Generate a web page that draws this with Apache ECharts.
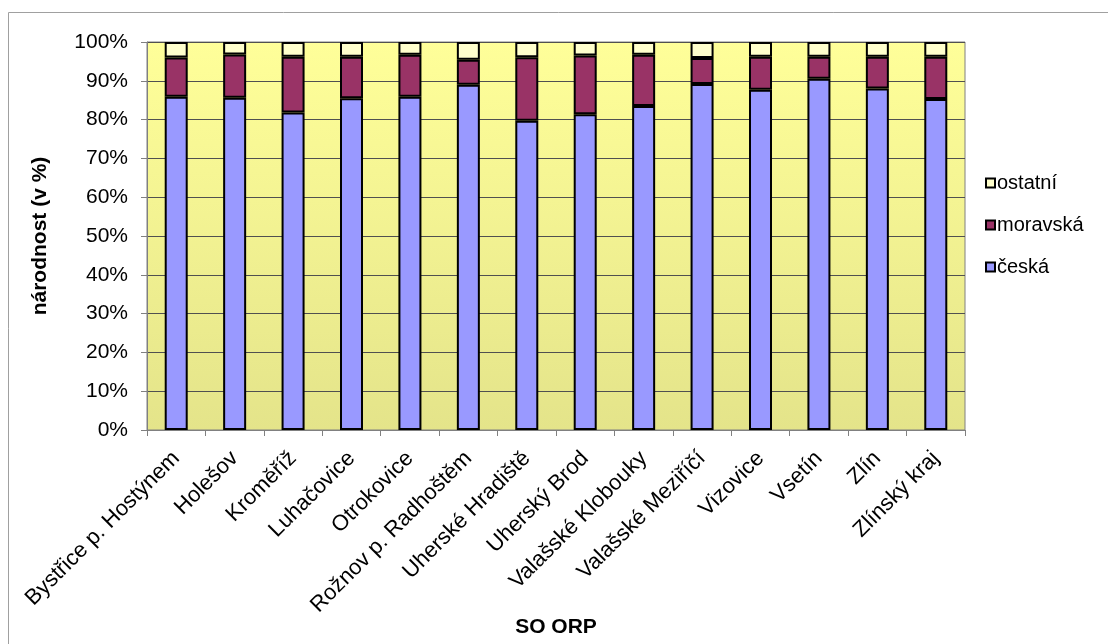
<!DOCTYPE html>
<html>
<head>
<meta charset="utf-8">
<script src="https://cdn.jsdelivr.net/npm/echarts@6/dist/echarts.min.js"></script>
<style>html,body{margin:0;padding:0;background:#fff}#c{width:1108px;height:644px}</style>
</head>
<body>
<div id="c"></div>
<script>
const categories = ["Bystřice p. Hostýnem","Holešov","Kroměříž","Luhačovice","Otrokovice","Rožnov p. Radhoštěm","Uherské Hradiště","Uherský Brod","Valašské Klobouky","Valašské Meziříčí","Vizovice","Vsetín","Zlín","Zlínský kraj"];
const ceska    = [85.9, 85.6, 81.8, 85.5, 85.9, 89.0, 79.7, 81.4, 83.5, 89.2, 87.7, 90.5, 88.0, 85.3];
const moravska = [10.1, 11.2, 14.4, 10.7, 10.8, 6.4, 16.4, 15.1, 13.2, 6.7, 8.5, 5.7, 8.2, 10.9];
const ostatni  = [4.0, 3.2, 3.8, 3.8, 3.3, 4.6, 3.9, 3.5, 3.3, 4.1, 3.8, 3.8, 3.8, 3.8];
const yTicks = [0,10,20,30,40,50,60,70,80,90,100];

const FONT = "Liberation Sans, Arial, sans-serif";
const chart = echarts.init(document.getElementById('c'), null, {renderer:'canvas'});
const barStyle = c => ({color:c, borderColor:'#000', borderWidth:2});
chart.setOption({
  animation:false,
  textStyle:{fontFamily:FONT},
  graphic:[{type:'rect', shape:{x:8.5,y:12.5,width:1200,height:700}, style:{fill:'none', stroke:'#a0a0a0', lineWidth:1}, z:-1}],
  grid:{left:147, right:143, top:42, bottom:214, show:true, outerBoundsMode:'none', containLabel:false,
    borderColor:'#808080', borderWidth:1,
    backgroundColor:new echarts.graphic.LinearGradient(0,0,0,1,[{offset:0,color:'#FFFF99'},{offset:1,color:'#E4E48A'}])},
  legend:{orient:'vertical', left:985, top:173, padding:0, itemWidth:9, itemHeight:9, itemGap:22,
    data:['ostatní','moravská','česká'],
    textStyle:{fontSize:20, color:'#000', fontFamily:FONT, padding:[0,0,0,-3]},
    icon:'rect'},
  xAxis:{type:'category', data:categories, name:'SO ORP', nameLocation:'middle', nameGap:187, nameMoveOverlap:false,
    nameTextStyle:{fontSize:21, fontWeight:'bold', color:'#000'},
    axisLine:{lineStyle:{color:'#808080'}}, axisTick:{show:true, length:6, lineStyle:{color:'#808080'}},
    axisLabel:{rotate:45, fontSize:22, color:'#000', margin:25, interval:0}},
  yAxis:{type:'value', min:0, max:100, interval:10, name:'národnost (v %)', nameLocation:'middle', nameGap:96, nameMoveOverlap:false,
    nameTextStyle:{fontSize:21, fontWeight:'bold', color:'#000'},
    axisLine:{show:true, lineStyle:{color:'#808080'}}, axisTick:{show:true, length:6, lineStyle:{color:'#808080'}},
    axisLabel:{formatter: v => yTicks.includes(v) ? v + '%' : '', fontSize:21, color:'#000', margin:19},
    splitLine:{lineStyle:{color:'#505050', width:1}}},
  series:[
    {name:'česká', type:'bar', stack:'a', data:ceska, barWidth:23, itemStyle:barStyle('#9999FF')},
    {name:'moravská', type:'bar', stack:'a', data:moravska, barWidth:23, itemStyle:barStyle('#993366')},
    {name:'ostatní', type:'bar', stack:'a', data:ostatni, barWidth:23, itemStyle:barStyle('#FFFFCC')}
  ]
});
</script>
</body>
</html>
